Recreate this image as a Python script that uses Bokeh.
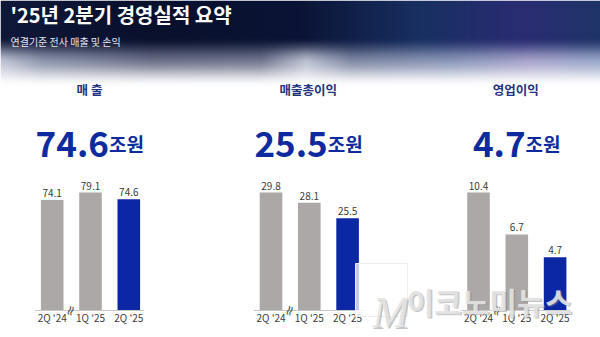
import numpy as np
from bokeh.plotting import figure
from bokeh.models import Range1d
from bokeh.core.properties import value
from bokeh.embed import file_html
from bokeh.resources import INLINE

# ---------------- data ----------------
title = "'25년 2분기 경영실적 요약"
subtitle = "연결기준 전사 매출 및 손익"
panel_titles = ["매 출", "매출총이익", "영업이익"]
unit = "조원"
quarters = ["2Q '24", "1Q '25", "2Q '25"]
sales = [74.1, 79.1, 74.6]
gross_profit = [29.8, 28.1, 25.5]
operating_profit = [10.4, 6.7, 4.7]
series = [sales, gross_profit, operating_profit]
axis_floor = [0, 10, 0]          # truncated axes (break marks drawn)
watermark_m = "M"
watermark_txt = "이코노미뉴스"

# ---------------- style ----------------
W, H = 600, 337
FONT = value("Noto Sans CJK KR")
GREY = "#aca8a7"
BLUE = "#0b27a3"
HEAD = "#1f3280"
BIG = "#0d2b9e"
LABEL = "#3a3a3a"

def Y(py):
    return H - py

p = figure(width=W, height=H, output_backend="svg", toolbar_location=None,
           x_range=Range1d(0, W), y_range=Range1d(0, H),
           x_axis_location=None, y_axis_location=None, min_border=0)
p.outline_line_color = None
p.grid.visible = False
p.background_fill_color = "white"
p.border_fill_color = "white"

# ---------------- header gradient ----------------
GH = 95
xs = np.arange(W)

def interp_color(anchors):
    ax = [a[0] for a in anchors]
    return np.stack([np.interp(xs, ax, [a[1][k] for a in anchors]) for k in range(3)], axis=1)

top_c = interp_color([(0, (16, 24, 58)), (150, (9, 16, 44)), (300, (11, 20, 54)),
                      (420, (24, 48, 98)), (520, (42, 44, 114)), (600, (30, 52, 104))])
mid_c = interp_color([(0, (190, 195, 212)), (40, (140, 148, 172)), (150, (105, 110, 135)),
                      (260, (110, 116, 140)), (305, (185, 190, 208)), (350, (125, 134, 162)),
                      (450, (135, 148, 182)), (530, (165, 162, 202)), (600, (150, 165, 200))])
white = np.array([255, 255, 255], dtype=float)

def smooth(a, b, t):
    u = np.clip((t - a) / (b - a), 0, 1)
    return u * u * (3 - 2 * u)

rgba = np.zeros((GH, W, 4), dtype=np.uint8)
for r in range(GH):
    t1 = smooth(36, 62, r)
    t2 = smooth(56, 86, r)
    c = top_c * (1 - t1) + mid_c * t1
    c = c * (1 - t2) + white * t2
    rgba[r, :, :3] = np.clip(c, 0, 255).astype(np.uint8)
    rgba[r, :, 3] = 255
img = np.ascontiguousarray(rgba[::-1]).view(dtype=np.uint32).reshape((GH, W))
p.image_rgba(image=[img], x=0, y=H - GH, dw=W, dh=GH)

p.text(x=[10], y=[Y(14)], text=[title], text_font=FONT, text_font_size="20px",
       text_font_style="bold", text_color="white", text_baseline="middle", text_align="left")
p.text(x=[10], y=[Y(41)], text=[subtitle], text_font=FONT, text_font_size="10px",
       text_color="#e6e8f2", text_baseline="middle", text_align="left")

# ---------------- panels ----------------
mids = [90, 308.8, 516.3]     # pixel centre of middle bar
spacing = 38.3
baseline_py = 310
max_h = 118
idx = list(range(len(quarters)))

def est_width(s, size):
    w = 0
    for ch in s:
        if ch.isdigit():
            w += 0.55 * size
        elif ch == ".":
            w += 0.26 * size
        else:
            w += 1.0 * size
    return w

for k, vals in enumerate(series):
    name = f"p{k}"
    c0 = mids[k] - spacing
    p.extra_x_ranges[name] = Range1d(-c0 / spacing, (W - c0) / spacing)
    floor = axis_floor[k]
    scale = max_h / (max(vals) - floor)
    ystart = floor - (H - baseline_py) / scale
    p.extra_y_ranges[name] = Range1d(ystart, ystart + H / scale)

    colors = [GREY] * (len(vals) - 1) + [BLUE]
    p.vbar(x=idx, top=vals, bottom=floor, width=0.59, fill_color=colors, line_color=None,
           x_range_name=name, y_range_name=name)
    p.segment(x0=[-0.45], x1=[2.4], y0=[floor], y1=[floor], line_color="#c8c8c8",
              line_width=1, x_range_name=name, y_range_name=name)
    p.text(x=idx, y=vals, text=[f"{v:.1f}" for v in vals], y_offset=-3,
           text_font=FONT, text_font_size="10px", text_color=LABEL,
           text_align="center", text_baseline="bottom", x_range_name=name, y_range_name=name)
    p.text(x=idx, y=[floor] * len(idx), text=quarters, y_offset=7,
           text_font=FONT, text_font_size="10px", text_color=LABEL,
           text_align="center", text_baseline="middle", x_range_name=name, y_range_name=name)
    # axis break mark
    p.text(x=[0.47], y=[floor], text=["≈"], angle=1.25,
           text_font=value("DejaVu Sans"), text_font_size="14px", text_color="#555555",
           text_align="center", text_baseline="middle", x_range_name=name, y_range_name=name)

    # headline
    p.text(x=[1], y=[Y(89)], text=[panel_titles[k]], text_font=FONT, text_font_size="12.5px",
           text_font_style="bold", text_color=HEAD, text_align="center", text_baseline="middle",
           x_offset=-1, x_range_name=name)
    num = f"{vals[-1]:.1f}"
    nsize, usize = 35, 19
    wn = est_width(num, nsize)
    wu = est_width(unit, usize)
    split = 4 - (wn + wu) / 2 + wn
    p.text(x=[1], y=[Y(143)], text=[num], text_font=FONT, text_font_size=f"{nsize}px",
           text_font_style="bold", text_color=BIG, text_align="right", text_baseline="alphabetic",
           x_offset=split, x_range_name=name)
    p.text(x=[1], y=[Y(143)], text=[unit], text_font=FONT, text_font_size=f"{usize}px",
           text_font_style="bold", text_color=BIG, text_align="left", text_baseline="alphabetic",
           x_offset=split, x_range_name=name)

# ---------------- watermark ----------------
p.quad(left=[355], right=[407], bottom=[Y(316)], top=[Y(263)], fill_color="white",
       fill_alpha=0.75, line_color="#eeeeee", line_width=1)
for dx, col, al in [(1.5, "#8a8a8a", 0.5), (0, "#e4e4e4", 0.92)]:
    p.text(x=[372 + dx], y=[Y(312) - dx], text=[watermark_m], text_font=value("Liberation Serif"),
           text_font_size="44px", text_font_style="italic", text_color=col, text_alpha=al,
           text_align="left", text_baseline="alphabetic")
    p.text(x=[406 + dx], y=[Y(300) - dx], text=[watermark_txt], text_font=FONT,
           text_font_size="30px", text_font_style="bold", text_color=col, text_alpha=al,
           text_align="left", text_baseline="middle")

open("out.html", "w").write(file_html(p, INLINE))
